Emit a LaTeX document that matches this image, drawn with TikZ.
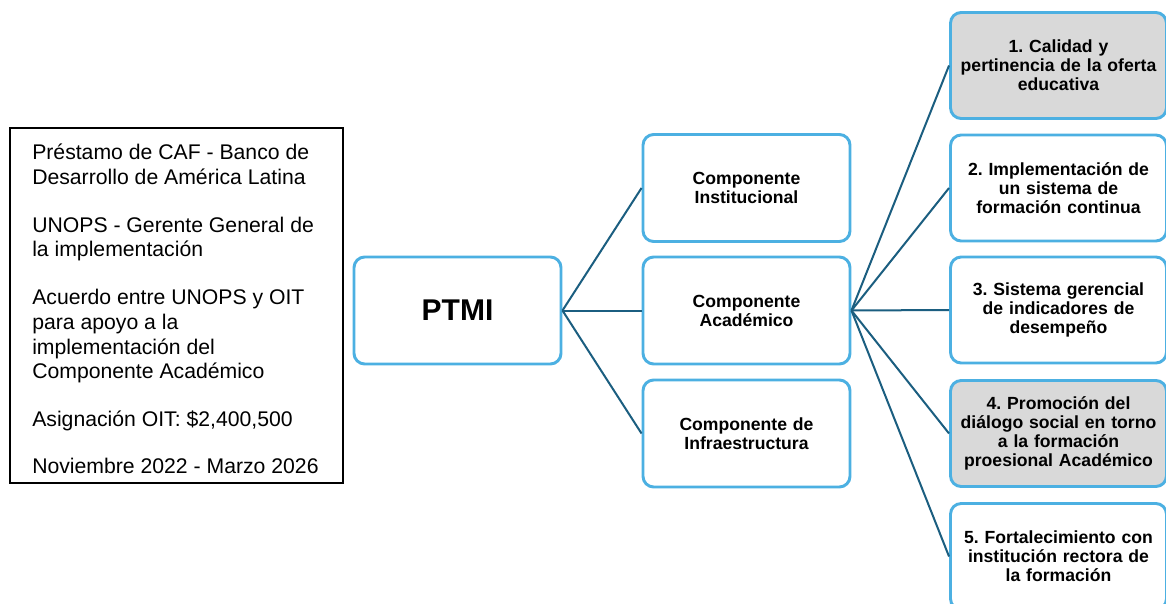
\documentclass[tikz,border=0pt]{standalone}
\usepackage{fontspec}
\setmainfont{Liberation Sans}
\definecolor{boxblue}{HTML}{4CB0E2}
\definecolor{linkcol}{HTML}{1B5E80}
\definecolor{hilite}{HTML}{D9D9D9}
\frenchspacing
\begin{document}
\begin{tikzpicture}[x=0.75pt,y=-0.75pt,
  bluebox/.style={draw=boxblue,line width=2.2pt,rounded corners=8pt,fill=white,
    minimum width=160.5pt,minimum height=79.5pt,align=center,inner sep=2pt,
    font=\bfseries\fontsize{13.2}{14.3}\selectfont},
  compbox/.style={bluebox,minimum width=155.25pt,minimum height=80.25pt,text width=150pt},
  itembox/.style={bluebox,minimum width=159.75pt,text width=158pt},
  grey/.style={fill=hilite},
  link/.style={draw=linkcol,line width=1.5pt}]
\useasboundingbox (0,0) rectangle (1166,603);
\fill[white] (0,0) rectangle (1166,603);
% left info box
\node[draw=black,line width=1.5pt,minimum width=249.75pt,minimum height=266.25pt,inner sep=0pt]
  (info) at (176.5,305.5) {};
\node[anchor=north west,align=left,inner sep=0pt,font=\fontsize{15.9}{18.6}\selectfont]
  (infotext) at (32,144) {Préstamo de CAF - Banco de\\Desarrollo de América Latina\\[17pt]
  UNOPS - Gerente General de\\la implementación\\[17pt]
  Acuerdo entre UNOPS y OIT\\para apoyo a la\\implementación del\\Componente Académico\\[17pt]
  Asignación OIT: \$2,400,500\\[17pt]
  Noviembre 2022 - Marzo 2026};
% PTMI
\node[bluebox,minimum width=155.25pt,minimum height=80.25pt,font=\bfseries\fontsize{22.5}{26}\selectfont]
  (ptmi) at (457.5,310.5) {PTMI};
% components
\node[compbox] (inst) at (746.5,188) {Componente\\Institucional\\[14pt]};
\node[compbox] (acad) at (746.5,310.5) {Componente\\Académico};
\node[compbox] (infra) at (746.5,433.5) {Componente de\\Infraestructura\\[2pt]};
% items
\node[itembox,grey] (i1) at (1058.5,65.5) {1. Calidad y\\pertinencia de la oferta\\educativa};
\node[itembox] (i2) at (1058.5,188) {2. Implementación de\\un sistema de\\formación continua};
\node[itembox] (i3) at (1058.5,310) {3. Sistema gerencial\\de indicadores de\\desempeño};
\node[itembox,grey] (i4) at (1058.5,433.5) {4. Promoción del\\diálogo social en torno\\a la formación\\proesional Académico};
\node[itembox] (i5) at (1058.5,556.5) {5. Fortalecimiento con\\institución rectora de\\la formación};
% connectors
\draw[link] (ptmi.east) -- (inst.west);
\draw[link] (ptmi.east) -- (acad.west);
\draw[link] (ptmi.east) -- (infra.west);
\foreach \n in {i1,i2,i3,i4,i5} \draw[link] (acad.east) -- (\n.west);
\end{tikzpicture}
\end{document}
